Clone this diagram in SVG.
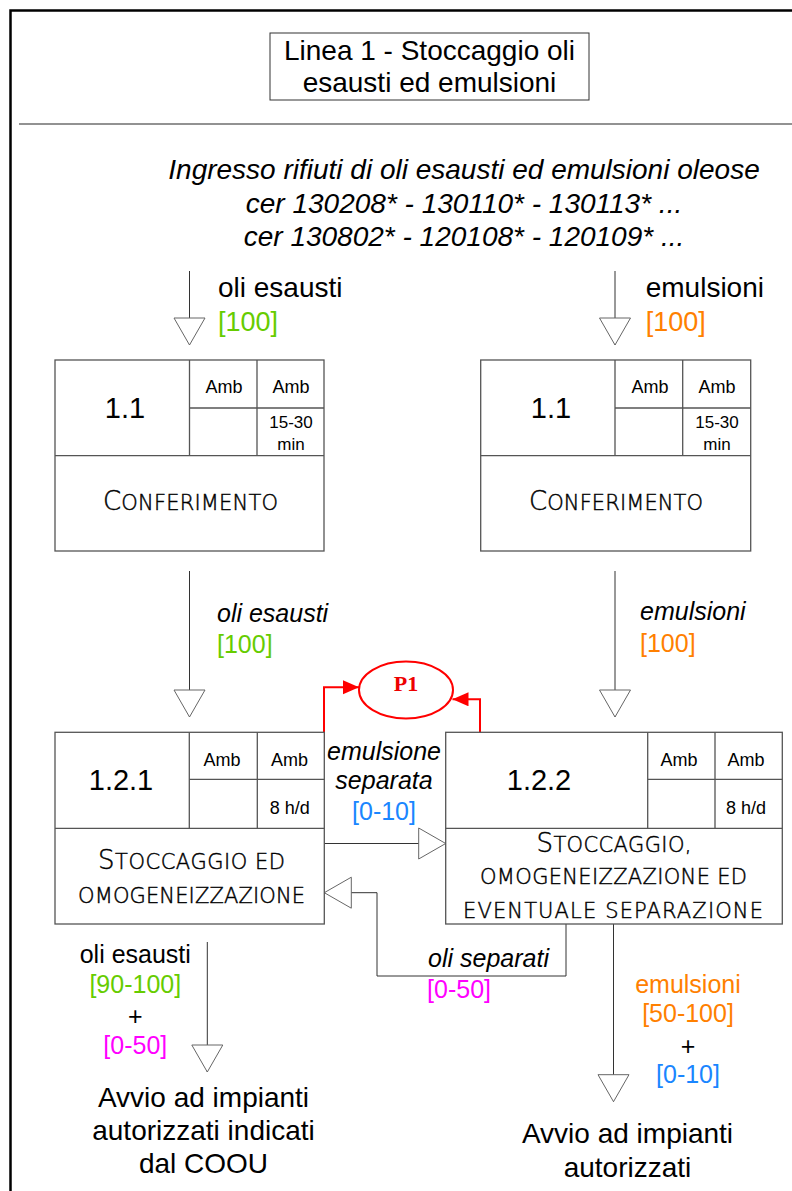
<svg xmlns="http://www.w3.org/2000/svg" width="792" height="1191" viewBox="0 0 792 1191">
<style>
  .box{fill:#fff;stroke:#555;stroke-width:1.3}
  .div{fill:none;stroke:#555;stroke-width:1.3}
  .ar{font-family:"Liberation Sans",Arial,sans-serif;fill:#000}
  .it{font-family:"Liberation Sans",Arial,sans-serif;font-style:italic;fill:#000}
  .cad{font-family:"DejaVu Sans","Liberation Sans",sans-serif;font-weight:200;fill:#000;stroke:#000;stroke-width:0.45}
  .conn{fill:none;stroke:#333;stroke-width:1}
  .red{fill:none;stroke:#f00;stroke-width:2}
  .g{fill:#66cc00}
  .o{fill:#ff8000}
  .b{fill:#1a86ff}
  .m{fill:#ff00ff}
</style>
<defs>
  <marker id="open" markerUnits="userSpaceOnUse" markerWidth="30" markerHeight="34" refX="27" refY="15.5" orient="auto" viewBox="-1 -1 30 34">
    <path d="M0,0 L27,15.5 L0,31 Z" fill="#fff" stroke="#666" stroke-width="1"/>
  </marker>
  <marker id="redhead" markerUnits="userSpaceOnUse" markerWidth="17" markerHeight="15" refX="16" refY="7" orient="auto" viewBox="0 0 17 15">
    <path d="M0,0 L16,7 L0,14 Z" fill="#f00"/>
  </marker>
</defs>
<rect width="792" height="1191" fill="#fff"/>
<g id="frame">
  <path d="M10.5,1195 V10.5 H800" fill="none" stroke="#000" stroke-width="2.5"/>
  <line x1="19" y1="124" x2="792" y2="124" stroke="#929292" stroke-width="2"/>
</g>
<g id="title">
  <rect x="270" y="33" width="319" height="67" fill="#fff" stroke="#333" stroke-width="1"/>
  <text class="ar" x="429.5" y="60" font-size="28" text-anchor="middle">Linea 1 - Stoccaggio oli</text>
  <text class="ar" x="429.5" y="92" font-size="28" text-anchor="middle">esausti ed emulsioni</text>
</g>
<g id="header">
  <text class="it" x="464" y="179" font-size="28" text-anchor="middle">Ingresso rifiuti di oli esausti ed emulsioni oleose</text>
  <text class="it" x="464" y="213" font-size="28" text-anchor="middle">cer 130208* - 130110* - 130113* ...</text>
  <text class="it" x="464" y="246" font-size="28" text-anchor="middle">cer 130802* - 120108* - 120109* ...</text>
</g>
<g id="connectors">
  <path class="conn" d="M189.5,271 V345" marker-end="url(#open)"/>
  <path class="conn" d="M615,271 V345" marker-end="url(#open)"/>
  <path class="conn" d="M189.5,571 V717" marker-end="url(#open)"/>
  <path class="conn" d="M615,571 V717" marker-end="url(#open)"/>
  <path class="conn" d="M324,843.5 H445.7" marker-end="url(#open)"/>
  <path class="conn" d="M566,924 V976 H377 V892.7 H324.3" marker-end="url(#open)"/>
  <path class="conn" d="M207.3,942 V1072" marker-end="url(#open)"/>
  <path class="conn" d="M613.5,924 V1101.7" marker-end="url(#open)"/>
  <path class="red" d="M290,747.7 H324 V687.3 H359" marker-end="url(#redhead)"/>
  <path class="red" d="M506.7,737.7 H480 V699.3 H452.5" marker-end="url(#redhead)"/>
</g>
<g id="labels">
  <text class="ar" x="218" y="297" font-size="28">oli esausti</text>
  <text class="ar g" x="218" y="331" font-size="27">[100]</text>
  <text class="ar" x="645.7" y="297" font-size="28">emulsioni</text>
  <text class="ar o" x="645.7" y="331" font-size="27">[100]</text>
  <text class="it" x="217" y="622" font-size="25">oli esausti</text>
  <text class="ar g" x="217" y="653" font-size="25">[100]</text>
  <text class="it" x="640" y="620" font-size="25">emulsioni</text>
  <text class="ar o" x="640" y="652" font-size="25">[100]</text>
  <text class="it" x="384" y="760" font-size="25" text-anchor="middle">emulsione</text>
  <text class="it" x="384" y="789" font-size="25" text-anchor="middle">separata</text>
  <text class="ar b" x="384" y="820" font-size="25" text-anchor="middle">[0-10]</text>
  <text class="it" x="549" y="967" font-size="25" text-anchor="end">oli separati</text>
  <text class="ar m" x="491" y="998" font-size="25" text-anchor="end">[0-50]</text>
  <text class="ar" x="135.3" y="963" font-size="25" text-anchor="middle">oli esausti</text>
  <text class="ar g" x="135.3" y="993" font-size="25" text-anchor="middle">[90-100]</text>
  <text class="ar" x="135.3" y="1025" font-size="25" text-anchor="middle">+</text>
  <text class="ar m" x="135.3" y="1054" font-size="25" text-anchor="middle">[0-50]</text>
  <text class="ar" x="203.5" y="1107" font-size="28" text-anchor="middle">Avvio ad impianti</text>
  <text class="ar" x="203.5" y="1140" font-size="28" text-anchor="middle">autorizzati indicati</text>
  <text class="ar" x="203.5" y="1173" font-size="28" text-anchor="middle">dal COOU</text>
  <text class="ar o" x="688" y="993" font-size="25" text-anchor="middle">emulsioni</text>
  <text class="ar o" x="688" y="1022" font-size="25" text-anchor="middle">[50-100]</text>
  <text class="ar" x="688" y="1055" font-size="25" text-anchor="middle">+</text>
  <text class="ar b" x="688" y="1083" font-size="25" text-anchor="middle">[0-10]</text>
  <text class="ar" x="627.5" y="1143" font-size="28" text-anchor="middle">Avvio ad impianti</text>
  <text class="ar" x="627.5" y="1176.5" font-size="28" text-anchor="middle">autorizzati</text>
</g>
<g id="node-1-1-oli">
  <rect class="box" x="55" y="360" width="269" height="191"/>
  <path class="div" d="M189.5,360 V455.7 M257,360 V455.7 M189.5,408 H324 M55,455.7 H324"/>
  <text class="ar" x="125" y="418" font-size="29" text-anchor="middle">1.1</text>
  <text class="ar" x="224" y="393" font-size="18" text-anchor="middle">Amb</text>
  <text class="ar" x="291" y="393" font-size="18" text-anchor="middle">Amb</text>
  <text class="ar" x="291" y="428" font-size="17" text-anchor="middle">15-30</text>
  <text class="ar" x="291" y="450" font-size="17" text-anchor="middle">min</text>
  <text class="cad" x="190.5" y="510" font-size="21" text-anchor="middle" textLength="175" lengthAdjust="spacing"><tspan font-size="26">C</tspan>ONFERIMENTO</text>
</g>
<g id="node-1-1-emulsioni">
  <rect class="box" x="480.7" y="360" width="270" height="191"/>
  <path class="div" d="M615,360 V455.7 M682.7,360 V455.7 M615,408 H750.7 M480.7,455.7 H750.7"/>
  <text class="ar" x="551" y="418" font-size="29" text-anchor="middle">1.1</text>
  <text class="ar" x="650" y="393" font-size="18" text-anchor="middle">Amb</text>
  <text class="ar" x="717" y="393" font-size="18" text-anchor="middle">Amb</text>
  <text class="ar" x="717" y="428" font-size="17" text-anchor="middle">15-30</text>
  <text class="ar" x="717" y="450" font-size="17" text-anchor="middle">min</text>
  <text class="cad" x="616" y="510" font-size="21" text-anchor="middle" textLength="174" lengthAdjust="spacing"><tspan font-size="26">C</tspan>ONFERIMENTO</text>
</g>
<g id="node-1-2-1">
  <rect class="box" x="55" y="732.3" width="269.3" height="191.7"/>
  <path class="div" d="M189.3,732.3 V828.3 M257.3,732.3 V828.3 M189.3,779.3 H324.3 M55,828.3 H324.3"/>
  <text class="ar" x="121" y="790" font-size="29" text-anchor="middle">1.2.1</text>
  <text class="ar" x="222" y="766" font-size="18" text-anchor="middle">Amb</text>
  <text class="ar" x="289.5" y="766" font-size="18" text-anchor="middle">Amb</text>
  <text class="ar" x="289.7" y="814" font-size="18" text-anchor="middle">8 h/d</text>
  <text class="cad" x="191.5" y="869" font-size="21" text-anchor="middle" textLength="187" lengthAdjust="spacing"><tspan font-size="26">S</tspan>TOCCAGGIO ED</text>
  <text class="cad" x="191.5" y="902.7" font-size="21" text-anchor="middle" textLength="227" lengthAdjust="spacing">OMOGENEIZZAZIONE</text>
</g>
<g id="node-1-2-2">
  <rect class="box" x="445.7" y="732.3" width="336.6" height="191.7"/>
  <path class="div" d="M647.7,732.3 V828.3 M715,732.3 V828.3 M647.7,779.3 H782.3 M445.7,828.3 H782.3"/>
  <text class="ar" x="539" y="790" font-size="29" text-anchor="middle">1.2.2</text>
  <text class="ar" x="679" y="766" font-size="18" text-anchor="middle">Amb</text>
  <text class="ar" x="746" y="766" font-size="18" text-anchor="middle">Amb</text>
  <text class="ar" x="746" y="814" font-size="18" text-anchor="middle">8 h/d</text>
  <text class="cad" x="614" y="851.7" font-size="21" text-anchor="middle" textLength="155" lengthAdjust="spacing"><tspan font-size="26">S</tspan>TOCCAGGIO,</text>
  <text class="cad" x="613.5" y="884" font-size="21" text-anchor="middle" textLength="267" lengthAdjust="spacing">OMOGENEIZZAZIONE ED</text>
  <text class="cad" x="613" y="918" font-size="21" text-anchor="middle" textLength="300" lengthAdjust="spacing">EVENTUALE SEPARAZIONE</text>
</g>
<g id="node-p1">
  <ellipse cx="406" cy="690" rx="47" ry="28.5" fill="#fff" stroke="#f00" stroke-width="2"/>
  <text x="406" y="691" font-family="'Liberation Serif','Times New Roman',serif" font-weight="bold" font-size="22" fill="#e00" text-anchor="middle">P1</text>
</g>
</svg>
